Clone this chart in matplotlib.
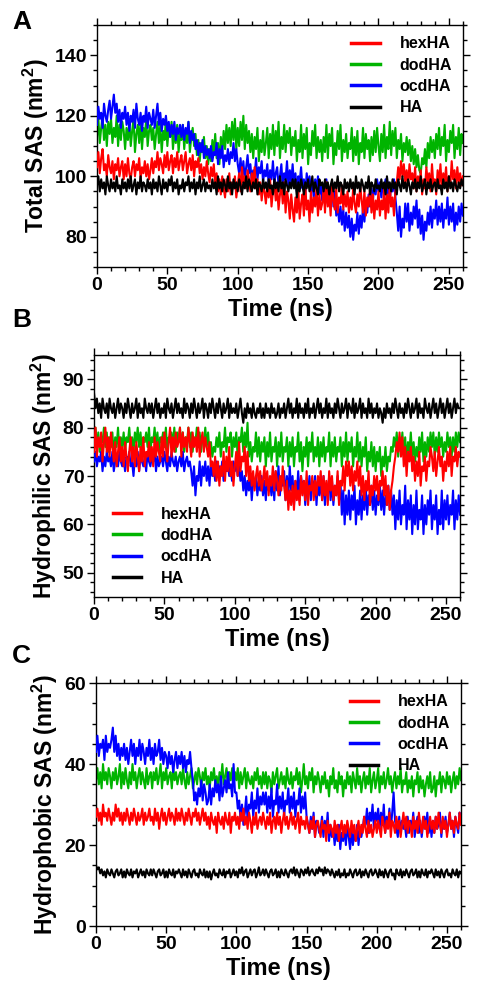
# -*- coding: utf-8 -*-
import matplotlib
matplotlib.use('Agg')
import matplotlib.pyplot as plt
from matplotlib.ticker import MultipleLocator
import numpy as np

plt.rcParams['font.family'] = ['Liberation Sans', 'DejaVu Sans']
plt.rcParams['font.weight'] = 'bold'
plt.rcParams['mathtext.fontset'] = 'custom'
plt.rcParams['mathtext.rm'] = 'Liberation Sans:bold'
plt.rcParams['mathtext.bf'] = 'Liberation Sans:bold'

# one sample per ns, 0..260 ns
labels = ['hexHA', 'dodHA', 'ocdHA', 'HA']
colors = ['#ff0000', '#00b400', '#0000ff', '#000000']

# ---- A: total SAS (nm^2) ----
total_hex = [103,108,101,106,109,102,104,100,107,103, 101,105,99,104,102,106,100,103,105,99,
             104,100,106,101,99,103,105,100,104,102, 106,99,103,101,105,100,104,99,102,106,
             101,105,103,108,102,106,104,101,107,103, 108,102,105,107,101,106,103,108,102,105,
             107,102,105,108,101,104,106,102,107,100, 105,103,106,101,104,99,103,100,105,101,
             98,103,100,104,97,101,95,99,94,100, 96,93,99,95,101,94,98,96,100,93,
             97,101,95,103,98,100,96,102,99,95, 101,97,103,96,99,94,98,92,97,95,
             91,97,93,99,90,95,98,92,96,89, 94,97,91,98,88,95,92,86,94,89,
             85,93,88,96,86,91,94,87,97,89, 92,85,95,88,93,90,96,87,94,89,
             91,96,88,98,90,94,87,97,92,89, 96,88,93,91,97,89,94,90,95,88,
             93,89,96,91,88,94,90,97,92,88, 95,87,93,90,96,88,94,86,92,89,
             95,87,92,89,96,86,94,88,97,90, 93,87,95,98,103,99,105,100,104,98,
             102,97,104,99,101,96,103,95,100,97, 102,94,99,96,103,98,101,95,104,97,
             99,94,102,97,104,96,101,98,103,95, 100,97,105,99,102,96,103,98,101,97,
             100]
total_dod = [113,119,111,116,120,112,117,110,118,114, 119,111,116,113,120,110,117,112,118,115,
             109,116,112,118,110,115,119,108,114,117, 111,118,109,116,113,119,110,115,117,112,
             116,109,114,118,111,117,108,115,112,119, 110,116,113,118,109,115,111,117,108,114,
             112,117,109,115,111,118,108,113,116,110, 114,107,112,105,111,108,113,106,110,104,
             109,105,112,107,114,106,111,104,113,108, 115,109,117,111,116,110,118,112,119,109,
             116,110,118,112,120,109,117,111,115,108, 114,106,113,109,116,105,112,108,115,107,
             111,116,106,114,109,117,107,115,110,118, 106,113,109,117,108,115,111,116,107,113,
             110,115,105,112,108,117,106,114,109,116, 104,111,107,115,110,117,106,113,108,112,
             105,113,108,117,106,114,110,116,104,111, 107,115,109,117,105,112,108,114,106,111,
             109,116,105,113,107,115,104,111,108,116, 106,114,109,112,105,113,107,115,108,116,
             110,105,114,108,117,106,113,109,118,107, 115,110,116,106,112,109,114,105,111,108,
             113,107,112,105,110,104,109,103,107,102, 101,106,104,109,103,111,106,113,108,112,
             106,114,109,116,107,113,110,117,105,112, 108,115,111,117,106,113,109,116,107,114,
             111]
total_ocd = [117,123,119,121,116,124,120,118,122,125, 119,123,127,121,124,118,122,116,121,119,
             123,117,121,115,120,118,122,116,124,119, 117,121,115,120,118,123,116,121,119,117,
             122,116,120,124,117,121,115,119,117,120, 115,118,113,117,114,118,112,116,114,117,
             113,117,112,116,114,118,111,115,112,114, 109,112,107,111,108,112,106,110,107,109,
             106,110,105,108,107,111,104,109,106,110, 103,107,105,109,104,108,106,111,105,109,
             104,101,106,100,105,99,103,107,101,104, 98,102,100,106,99,103,101,105,98,102,
             100,104,97,102,99,105,98,101,103,97, 100,104,96,101,99,105,97,102,98,104,
             97,101,95,100,98,103,96,99,94,101, 97,100,95,98,93,99,96,100,94,97,
             92,97,95,99,91,96,93,98,90,95, 87,91,85,90,84,89,82,88,83,87,
             80,86,79,84,82,88,81,87,83,90, 85,91,88,94,90,96,92,97,94,99,
             95,98,93,97,96,99,94,98,92,97, 95,99,93,88,82,90,80,86,83,91,
             85,91,82,88,84,90,86,92,83,89, 81,87,79,85,82,88,84,90,83,89,
             86,92,84,90,85,91,83,89,86,93, 84,90,85,91,82,88,84,90,85,91,
             87]
total_ha = [97,100,95,99,96,98,94,100,97,95, 99,96,98,95,100,96,97,94,99,96,
            98,95,99,96,100,95,97,99,94,98, 96,100,95,98,97,95,99,96,98,94,
            99,96,98,95,100,97,94,99,96,98, 95,99,97,100,95,98,96,99,94,97,
            96,99,95,98,97,100,95,98,96,99, 94,98,96,100,95,97,99,95,98,96,
            97,95,99,96,98,94,100,96,98,95, 99,97,95,100,96,98,94,99,96,98,
            95,99,97,94,98,96,100,95,99,97, 95,98,96,99,94,98,97,95,99,96,
            98,95,99,96,97,94,99,96,98,95, 100,96,98,94,99,97,95,98,96,99,
            96,99,93,98,95,99,97,94,98,96, 99,95,97,100,95,98,96,94,99,97,
            98,95,99,96,98,94,97,99,95,98, 96,100,95,98,97,94,99,96,98,95,
            99,96,98,94,100,96,98,95,99,97, 95,98,96,100,94,98,97,95,99,96,
            97,95,99,96,98,94,100,96,98,95, 99,96,98,94,99,97,95,100,96,98,
            95,99,97,94,98,96,99,95,98,96, 100,95,97,99,94,98,96,99,95,97,
            98,95,99,96,97,94,99,96,98,95, 100,96,98,95,99,97,95,98,96,99,
            97]

# ---- B: hydrophilic SAS (nm^2) ----
philic_hex = [75,80,74,78,76,79,73,77,80,75, 78,74,79,76,73,77,72,75,78,73,
              76,72,77,74,71,75,78,73,76,72, 77,74,71,76,73,78,72,75,74,77,
              73,76,72,78,74,77,75,73,78,74, 79,76,73,77,80,74,78,75,79,76,
              77,80,74,79,76,78,75,80,77,74, 79,76,78,75,80,74,77,79,75,78,
              76,74,77,72,73,70,74,69,73,68, 72,70,75,69,74,71,76,70,73,68,
              72,75,70,77,71,74,73,76,70,75, 69,72,68,71,67,70,72,68,71,67,
              69,72,68,71,66,70,68,72,67,71, 69,66,70,67,72,68,65,69,63,67,
              64,68,63,69,65,67,64,70,66,69, 65,71,64,68,67,70,65,69,66,70,
              68,71,65,70,66,69,64,71,67,70, 65,68,66,71,64,69,68,72,67,73,
              70,73,68,72,67,71,69,73,68,72, 66,70,65,69,67,71,64,68,66,70,
              67,70,65,69,68,71,66,70,64,68, 63,67,69,72,74,77,75,79,74,78,
              72,76,70,75,73,76,71,74,69,73, 70,75,68,72,71,74,69,73,72,76,
              74,71,75,70,73,76,72,74,69,73, 71,75,72,76,70,74,73,76,72,75,
              74]
philic_dod = [77,80,76,79,75,78,77,80,76,79, 75,78,76,79,74,78,76,80,75,78,
              76,79,75,78,77,80,76,78,75,79, 77,80,76,79,75,78,77,79,76,80,
              75,78,77,80,76,79,75,78,77,79, 76,80,75,78,77,79,76,80,75,79,
              77,80,76,79,75,78,77,80,76,79, 75,78,77,80,76,79,75,78,77,80,
              76,79,75,77,74,76,75,78,76,79, 74,77,76,80,75,78,77,79,74,78,
              76,79,74,78,77,80,75,79,76,81, 74,77,73,76,75,79,74,78,73,77,
              75,78,72,77,74,79,73,76,75,78, 72,77,74,79,73,76,75,78,72,77,
              74,78,72,76,75,79,73,77,71,76, 74,78,72,77,75,79,73,76,74,78,
              72,77,74,78,73,76,75,79,72,77, 74,78,73,76,75,78,72,77,74,79,
              73,77,75,78,72,76,74,79,73,77, 72,76,74,78,71,75,73,77,72,76,
              71,75,73,76,70,74,72,76,71,74, 73,76,75,78,76,79,74,78,75,79,
              74,78,73,77,75,79,74,77,73,76, 74,78,75,79,73,77,74,78,75,79,
              76,79,74,78,75,79,76,78,74,77, 75,79,76,78,74,78,75,79,76,79,
              77]
philic_ocd = [73,75,72,74,73,75,71,74,72,75, 73,74,72,75,71,73,74,72,75,73,
              72,74,71,74,73,75,72,73,70,74, 72,75,71,74,73,72,74,71,75,73,
              72,74,73,75,71,74,72,73,74,72, 75,73,71,74,72,75,73,72,74,71,
              73,74,72,75,71,73,74,72,73,71, 68,72,66,70,69,73,68,72,70,73,
              69,72,68,73,70,72,69,73,71,72, 70,73,69,72,71,73,70,72,69,73,
              71,73,70,72,69,71,67,70,66,69, 67,70,65,69,68,70,66,69,67,70,
              66,69,65,70,67,69,66,70,65,71, 67,72,66,70,68,71,65,70,66,72,
              67,70,64,69,66,71,65,70,67,69, 64,68,66,70,65,69,67,70,64,69,
              66,69,65,70,64,68,66,70,65,69, 64,68,66,70,65,69,62,67,60,66,
              62,67,61,66,63,68,60,65,62,67, 61,66,63,68,62,66,64,68,63,67,
              62,66,64,68,63,67,62,66,64,68, 63,67,62,66,59,65,61,67,60,64,
              62,68,59,65,61,66,58,64,60,67, 59,63,61,66,58,64,60,65,62,67,
              59,64,61,66,58,63,60,67,59,65, 61,66,60,64,62,67,59,65,61,66,
              62]
philic_ha = [87,84,86,83,85,82,86,84,83,85, 82,86,84,83,85,82,84,86,83,85,
             84,82,85,83,86,84,82,85,83,84, 86,82,85,83,84,82,86,84,83,85,
             83,85,82,84,86,83,85,82,84,83, 85,82,86,84,83,85,82,84,86,83,
             85,83,84,82,86,83,85,84,82,85, 83,86,84,82,85,83,84,86,82,85,
             84,82,85,83,86,84,82,85,83,86, 84,82,85,83,84,86,82,85,83,84,
             83,85,82,84,86,83,81,84,82,85, 83,84,82,85,83,82,84,83,85,82,
             84,82,85,83,84,82,85,83,84,82, 83,85,82,84,83,85,82,84,86,83,
             85,82,84,83,86,82,85,83,84,82, 85,83,86,82,84,83,85,82,84,86,
             83,85,82,84,83,86,82,85,83,84, 82,85,83,86,84,82,85,83,84,86,
             82,85,84,83,86,82,85,83,84,86, 82,85,83,84,82,86,83,85,82,84,
             83,85,82,84,83,81,84,82,85,83, 84,82,85,83,86,84,82,85,83,84,
             82,85,83,86,84,82,85,83,84,86, 82,85,83,84,82,86,84,83,85,82,
             84,86,83,85,82,84,86,83,85,82, 84,86,83,85,82,84,86,83,85,84,
             84]

# ---- C: hydrophobic SAS (nm^2) ----
phobic_hex = [27,29,26,28,25,30,27,28,26,29, 27,25,28,26,30,27,29,26,28,25,
              28,26,29,27,25,28,26,29,27,25, 28,26,27,29,25,28,26,27,29,26,
              27,25,29,26,28,24,27,29,26,28, 25,27,29,26,28,27,25,29,26,28,
              26,29,27,25,28,26,29,27,25,28, 27,29,26,28,25,27,29,26,28,25,
              27,24,28,26,25,27,23,28,26,25, 27,24,28,26,25,28,23,27,26,28,
              25,27,24,28,26,29,25,27,24,28, 26,23,27,25,28,24,26,27,25,28,
              26,24,27,25,28,23,26,27,24,28, 25,27,23,26,28,25,27,24,26,28,
              25,27,24,26,28,23,27,25,26,24, 27,25,23,26,24,27,22,25,26,24,
              22,26,24,25,21,26,23,25,24,22, 26,23,25,21,24,26,22,25,23,26,
              24,22,26,23,25,21,24,26,22,25, 23,27,24,22,26,23,25,22,24,26,
              23,26,24,22,27,25,23,26,24,28, 22,26,25,23,27,24,26,22,25,28,
              24,27,23,26,25,22,27,24,26,23, 28,25,23,27,24,26,22,25,27,24,
              26,23,27,24,28,25,23,27,24,26, 22,25,28,24,26,23,27,25,24,28,
              25]
phobic_dod = [36,39,35,38,34,40,36,38,35,39, 37,34,38,36,39,35,37,40,34,38,
              35,39,36,34,38,35,40,36,38,34, 37,39,35,38,36,34,39,35,37,38,
              34,38,36,39,35,37,40,34,38,36, 39,35,37,38,34,39,36,38,35,37,
              38,35,39,36,34,38,35,37,39,34, 36,38,35,39,37,34,38,36,39,35,
              37,34,38,36,39,35,37,34,38,36, 40,35,37,39,34,38,36,39,35,38,
              36,39,34,38,35,37,39,34,38,36, 35,37,34,38,36,39,35,37,34,38,
              35,38,34,37,36,33,38,35,37,39, 34,36,38,35,37,34,39,36,35,38,
              34,37,36,39,35,38,33,36,40,35, 37,34,38,36,39,33,37,35,38,36,
              33,37,35,38,34,36,32,37,35,39, 34,36,33,38,35,37,32,36,34,38,
              35,37,33,38,36,34,39,35,37,33, 36,38,34,37,35,39,33,36,38,34,
              36,39,33,37,35,38,34,36,39,35, 37,33,36,38,34,37,35,39,33,36,
              35,38,33,36,34,37,32,36,35,38, 33,37,34,36,32,35,37,34,38,33,
              34,37,32,36,35,38,33,37,36,34, 38,35,37,33,36,38,34,37,35,39,
              36]
phobic_ocd = [43,47,42,45,44,46,41,47,43,45, 44,46,49,43,47,42,45,41,44,42,
              45,41,44,40,43,46,42,45,40,44, 42,46,41,45,43,40,44,42,46,41,
              44,40,45,42,43,46,41,44,40,43, 42,39,43,40,42,38,41,43,39,42,
              40,43,39,42,38,41,40,43,39,36, 31,33,30,34,32,36,31,35,33,30,
              31,35,30,34,32,36,33,35,31,37, 32,34,36,33,38,34,35,32,40,33,
              33,29,31,26,30,25,28,32,26,30, 29,33,27,31,29,34,28,32,30,33,
              30,33,28,32,29,34,27,31,30,35, 28,32,29,33,27,31,30,34,28,32,
              29,33,27,31,30,34,28,32,29,33, 27,25,23,27,24,28,22,26,25,23,
              24,27,22,26,23,28,21,25,22,24, 20,24,21,25,19,23,21,24,20,25,
              22,19,24,20,23,21,25,20,24,22, 24,27,25,29,23,28,26,30,24,28,
              26,29,24,28,25,30,23,27,25,29, 24,28,33,26,24,22,27,23,26,24,
              25,22,27,23,26,24,28,22,25,27, 23,26,22,25,27,24,28,23,26,22,
              26,23,27,24,25,28,22,26,24,27, 23,25,28,24,26,22,27,25,23,28,
              26]
phobic_ha = [15,14,14.5,13,14,12.5,13.5,12,14,13, 12.5,14,13,12,13.5,14,12.5,13,14,12,
             13.5,12,14,13,12.5,14,12,13.5,13,14, 12,13,14,12.5,13.5,12,14,13,12.5,14,
             12.5,14,13,12,13.5,14,12.5,13,14,12, 13.5,12,14,13,12.5,14,12,13.5,13,14,
             13,12,14,12.5,13.5,12,14,13,12,13.5, 14,12.5,13,12,14,13,12.5,14,12,13.5,
             12,13.5,11.5,13,14,12.5,13,12,14,13, 12.5,14,12,13.5,13,14,12,13,14,12.5,
             13.5,12,14,13,14.5,12.5,13.5,14,12,13, 14,12.5,13.5,14,12,13,14.5,12.5,13,14,
             12.5,14,13,12,13.5,14,12.5,13,14,12, 13.5,12,14,13,12.5,14,13,12,13.5,14,
             13,14.5,12.5,14,13,12,14,13.5,12.5,14, 13,14.5,12.5,13.5,14,13,12.5,14,13,14.5,
             13.5,14,12.5,14.5,13,14,13.5,12.5,14,13, 12,13.5,12.5,14,12,13,12.5,14,12,13,
             12.5,14,13,12,13.5,14,12.5,13,14,12, 13.5,12.5,14,13,12,13.5,14,12.5,13,14,
             13,12,14,12.5,13.5,12,14,13,12,13.5, 14,12.5,13,11.5,14,13,12.5,14,12,13.5,
             12.5,14,13,12,13.5,14,12.5,13,14,12, 13.5,12,14,13,12.5,14,12,13.5,13,14,
             13,12,14,12.5,13.5,12,14,13,12,13.5, 14,12.5,13,12,14,13,12.5,14,12,13.5,
             13]

panels = [
    dict(series=[total_hex, total_dod, total_ocd, total_ha], ylim=(70, 150), major=20, minor=5,
         ylabel=r'Total SAS (nm$^{2}$)', rect=[0.202, 0.7335, 0.7625, 0.2415], legend='upper right', letter='A'),
    dict(series=[philic_hex, philic_dod, philic_ocd, philic_ha], ylim=(45, 95), major=10, minor=2,
         ylabel=r'Hydrophilic SAS (nm$^{2}$)', rect=[0.196, 0.4042, 0.7625, 0.2415], legend='lower left', letter='B'),
    dict(series=[phobic_hex, phobic_dod, phobic_ocd, phobic_ha], ylim=(0, 60), major=20, minor=5,
         ylabel=r'Hydrophobic SAS (nm$^{2}$)', rect=[0.200, 0.0758, 0.7604, 0.2425], legend='upper right', letter='C'),
]
letter_y = [0.978, 0.681, 0.345]

fig = plt.figure(figsize=(4.8, 10.02), dpi=100)

for p, ly in zip(panels, letter_y):
    ax = fig.add_axes(p['rect'])
    # draw order: green, blue, red, black on top
    order = [1, 2, 0, 3]
    for z, i in enumerate(order):
        y = p['series'][i]
        ax.plot(np.arange(len(y)), y, color=colors[i], lw=1.5, zorder=2 + z)
    handles = [plt.Line2D([], [], color=c, lw=2.5) for c in colors]
    if p['legend'] == 'upper right':
        leg = ax.legend(handles, labels, loc='upper right', bbox_to_anchor=(1.0, 1.0),
                        frameon=False, fontsize=11.5, handlelength=1.8, handletextpad=1.2,
                        labelspacing=0.4, borderaxespad=0.3)
    else:
        leg = ax.legend(handles, labels, loc='lower left', bbox_to_anchor=(0.02, 0.0),
                        frameon=False, fontsize=11.5, handlelength=1.8, handletextpad=1.2,
                        labelspacing=0.4, borderaxespad=0.3)
    leg.set_zorder(10)

    ax.set_xlim(0, 260)
    ax.set_ylim(*p['ylim'])
    ax.xaxis.set_major_locator(MultipleLocator(50))
    ax.xaxis.set_minor_locator(MultipleLocator(10))
    ax.yaxis.set_major_locator(MultipleLocator(p['major']))
    ax.yaxis.set_minor_locator(MultipleLocator(p['minor']))
    ax.tick_params(which='both', direction='out', top=True, right=True, labelsize=14, width=1)
    ax.tick_params(which='major', length=5, pad=2)
    ax.tick_params(which='minor', length=3)
    for s in ax.spines.values():
        s.set_linewidth(1.0)
    ax.set_xlabel('Time (ns)', fontsize=17, fontweight='bold', labelpad=3)
    ax.set_ylabel(p['ylabel'], fontsize=16.5, fontweight='bold', labelpad=3)
    fig.text(0.025, ly, p['letter'], fontsize=19, fontweight='bold', va='center')

plt.savefig('out.png', dpi=100)
